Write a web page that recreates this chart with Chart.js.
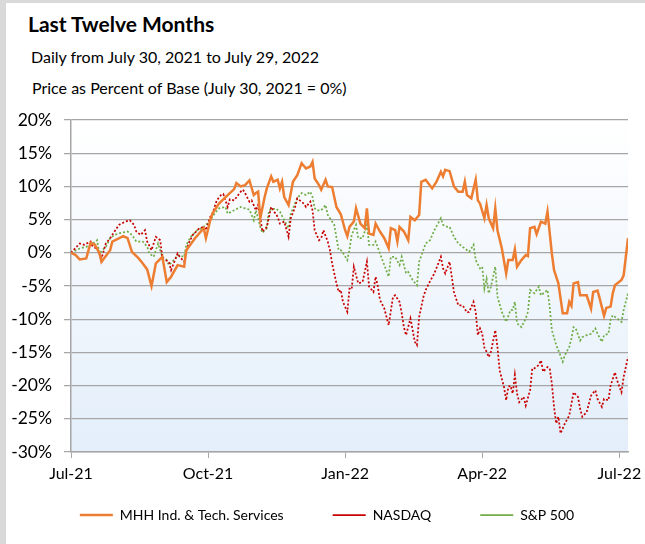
<!DOCTYPE html>
<html>
<head>
<meta charset="utf-8">
<script src="https://cdn.jsdelivr.net/npm/chart.js@4/dist/chart.umd.min.js"></script>
<style>
  body { margin: 0; background: #d9d9d9; width: 645px; height: 544px; overflow: hidden; font-family: Lato, "Liberation Sans", sans-serif; }
  #card { position: absolute; left: 6px; top: 3px; width: 639px; height: 541px; background: #fff; }
  .t { position: absolute; white-space: nowrap; color: #000; line-height: 1; }
  #title { left: 22px; top: 10px; font-size: 21px; font-weight: bold; }
  #sub1 { left: 25px; top: 46px; font-size: 16px; }
  #sub2 { left: 26px; top: 77px; font-size: 16px; }
  canvas { position: absolute; left: 0; top: 0; }
</style>
</head>
<body>
<div id="card">
  <div class="t" id="title">Last Twelve Months</div>
  <div class="t" id="sub1">Daily from July 30, 2021 to July 29, 2022</div>
  <div class="t" id="sub2">Price as Percent of Base (July 30, 2021 = 0%)</div>
  <canvas id="chart" width="639" height="541"></canvas>
</div>
<script>
// trading day index (0 = July 30, 2021) and % change from base
const mhhDay = [
    0, 2, 4, 7, 9, 11, 13, 14, 18, 19,
    24, 26, 28, 31, 33, 35, 37, 39, 42, 44,
    46, 49, 52, 53, 57, 61, 62, 64, 65, 68,
    72, 75, 76, 78, 80, 82, 84, 85, 86, 87,
    89, 90, 92, 93, 95, 96, 97, 98, 100, 102,
    104, 106, 108, 110, 111, 112, 114, 115, 117, 118,
    120, 122, 124, 126, 127, 128, 130, 131, 133, 135,
    136, 137, 139, 140, 142, 144, 146, 147, 149, 150,
    151, 153, 155, 156, 158, 160, 161, 163, 166, 168,
    170, 171, 172, 174, 176, 178, 180, 181, 182, 184,
    186, 187, 188, 190, 191, 192, 194, 195, 196, 198,
    200, 201, 203, 204, 205, 207, 209, 210, 211, 213,
    214, 216, 218, 219, 221, 222, 224, 226, 228, 229,
    230, 231, 233, 234, 237, 239, 240, 242, 243, 245,
    246, 248, 249, 250, 253, 254, 256
];
const mhhPct = [
    0, -0.3, -1.0, -0.85, 1.5, 1.2, 0, -1.35, 0.4, 1.7,
    2.5, 2.2, 0.15, -0.8, -1.6, -2.5, -5.0, -1.6, -0.6, -4.4,
    -3.6, -1.85, -2.1, 0.4, 2.2, 3.7, 2.2, 4.9, 5.9, 7.4,
    8.7, 9.6, 10.5, 10.0, 10.2, 10.9, 8.7, 9.0, 9.2, 5.2,
    8.4, 9.7, 11.5, 10.7, 11.0, 9.7, 10.7, 8.4, 7.2, 10.7,
    11.7, 13.5, 12.7, 13.0, 13.7, 11.2, 10.2, 9.5, 11.0, 10.0,
    9.9, 6.9, 5.8, 3.4, 2.5, 3.9, 4.7, 6.7, 4.4, 3.7,
    6.7, 2.9, 2.7, 4.4, 3.2, 2.2, 0.7, 3.7, 3.4, 1.7,
    3.9, 3.2, 1.9, 5.4, 4.9, 5.7, 10.7, 11.0, 9.7, 10.7,
    12.2, 11.5, 12.5, 12.3, 10.0, 9.2, 9.2, 10.7, 8.7, 8.2,
    11.0, 7.9, 7.4, 5.2, 7.2, 5.2, 3.7, 6.7, 3.4, 0.7,
    -3.1, -1.1, -1.1, 0.5, -2.1, -1.1, -0.35, -0.5, 3.7, 3.9,
    2.8, 4.7, 4.4, 6.2, -0.1, -2.6, -4.6, -9.1, -9.1, -7.4,
    -8.0, -4.6, -4.4, -6.4, -6.4, -8.4, -5.9, -5.7, -6.9, -9.5,
    -8.3, -8.1, -6.1, -4.9, -4.1, -3.4, 2.2
];

const nasdaqDay = [
    0, 4, 6, 9, 10, 12, 14, 16, 18, 20,
    22, 25, 27, 29, 30, 32, 34, 35, 37, 39,
    41, 42, 45, 46, 49, 50, 52, 54, 56, 59,
    61, 62, 64, 65, 67, 69, 70, 72, 73, 75,
    78, 79, 80, 82, 83, 85, 86, 87, 88, 90,
    92, 93, 95, 96, 98, 100, 101, 103, 104, 107,
    108, 110, 111, 112, 114, 115, 116, 118, 119, 120,
    122, 123, 124, 125, 127, 128, 129, 130, 132, 134,
    136, 137, 139, 140, 141, 142, 144, 146, 148, 149,
    151, 152, 153, 154, 156, 157, 158, 159, 160, 162,
    163, 165, 167, 170, 171, 172, 174, 175, 176, 178,
    180, 182, 183, 185, 186, 187, 188, 189, 190, 191,
    192, 193, 195, 196, 197, 199, 200, 201, 202, 203,
    204, 205, 206, 208, 209, 211, 212, 213, 215, 216,
    217, 219, 220, 221, 222, 223, 224, 225, 227, 229,
    231, 233, 234, 235, 237, 239, 241, 242, 244, 245,
    247, 248, 250, 251, 253, 254, 256
];
const nasdaqPct = [
    0, 1.4, 1.2, 1.7, 0.9, 0.65, -0.85, 1.4, 2.2, 3.2,
    4.2, 4.7, 4.9, 4.2, 3.2, 2.7, 3.4, 1.7, 0.4, 2.4,
    1.9, -0.85, -1.35, -2.6, -0.1, -0.6, -1.35, 1.4, 2.7, 3.7,
    3.9, 3.4, 5.4, 5.9, 7.9, 8.7, 8.85, 6.9, 8.05, 7.9,
    9.2, 9.5, 9.0, 7.7, 7.9, 6.4, 7.2, 5.2, 3.2, 3.9,
    6.9, 6.4, 5.4, 4.4, 4.7, 2.4, 5.2, 6.9, 8.2, 7.4,
    6.9, 7.7, 6.4, 3.4, 1.9, 2.2, 3.4, 1.7, 0.4, -1.6,
    -4.6, -5.9, -5.6, -7.4, -8.9, -5.4, -5.5, -2.1, -4.6, -4.4,
    -1.35, -5.1, -5.9, -3.6, -5.0, -7.1, -8.4, -10.9, -6.6, -6.4,
    -7.4, -9.1, -11.2, -12.4, -9.9, -11.6, -13.4, -13.9, -9.65, -6.6,
    -5.6, -4.3, -3.1, -0.6, -2.35, -3.1, -1.35, -3.6, -5.9, -7.9,
    -7.9, -9.0, -8.9, -7.4, -8.9, -12.4, -11.4, -12.2, -14.3, -14.9,
    -15.7, -14.9, -11.65, -14.2, -17.7, -20.2, -22.2, -20.2, -20.0, -21.2,
    -18.4, -21.2, -22.5, -21.7, -23.0, -20.7, -17.4, -17.4, -16.9, -16.2,
    -17.9, -17.2, -17.4, -19.7, -23.2, -25.7, -24.7, -27.2, -25.7, -24.5,
    -21.0, -21.7, -23.5, -24.7, -24.0, -21.5, -20.7, -22.0, -23.2, -22.0,
    -22.2, -20.0, -18.0, -19.2, -21.0, -18.7, -15.7
];

const spDay = [
    0, 4, 7, 10, 12, 13, 16, 18, 20, 23,
    26, 28, 30, 33, 35, 36, 38, 40, 42, 44,
    45, 48, 49, 52, 53, 55, 58, 60, 62, 64,
    66, 68, 71, 72, 75, 78, 80, 82, 84, 85,
    87, 88, 90, 91, 94, 96, 98, 100, 101, 104,
    106, 108, 110, 111, 112, 113, 115, 117, 118, 121,
    123, 124, 125, 127, 128, 129, 131, 132, 134, 136,
    137, 139, 140, 142, 144, 146, 147, 149, 151, 152,
    154, 155, 157, 159, 160, 163, 165, 167, 170, 171,
    173, 174, 176, 178, 180, 183, 185, 186, 188, 189,
    190, 191, 192, 193, 195, 196, 198, 200, 202, 203,
    204, 205, 207, 209, 210, 211, 213, 215, 216, 219,
    220, 221, 223, 224, 226, 227, 229, 230, 231, 232,
    234, 235, 237, 239, 241, 242, 244, 245, 247, 248,
    249, 251, 253, 254, 256
];
const spPct = [
    0, 0.65, 0.9, 1.4, 1.9, -0.1, 0.9, 2.2, 2.7, 3.0,
    3.2, 2.7, 1.7, 1.7, 0.9, -0.1, -0.6, 1.4, -0.6, -1.1,
    -1.85, -0.85, -0.35, -0.6, 1.2, 2.4, 3.4, 3.7, 4.2, 4.9,
    5.9, 6.7, 6.9, 5.9, 6.4, 6.9, 6.7, 6.5, 4.9, 6.4,
    3.9, 3.0, 3.7, 6.4, 6.7, 6.2, 4.9, 3.7, 5.9, 8.2,
    9.0, 8.7, 9.2, 8.4, 6.7, 6.4, 6.4, 7.2, 5.7, 4.2,
    0.4, 0.4, 0.0, -1.1, 0.5, 2.7, 4.2, 2.2, 2.2, 4.2,
    1.2, 1.2, 1.7, -0.1, -1.85, -3.6, -0.6, -0.6, -1.85, -0.6,
    -3.1, -2.9, -4.1, -4.9, -1.35, 1.4, 1.9, 3.4, 5.2, 4.2,
    3.9, 3.9, 2.4, 1.4, 0.9, 0.15, 1.2, -1.1, -2.35, -2.1,
    -5.4, -3.9, -6.1, -5.1, -2.1, -6.6, -8.9, -10.4, -8.6, -8.6,
    -7.4, -10.6, -11.2, -9.9, -8.9, -5.6, -6.1, -5.1, -6.4, -5.6,
    -8.1, -11.65, -13.9, -14.7, -16.4, -15.4, -14.2, -12.9, -11.2, -11.4,
    -13.2, -12.7, -12.4, -12.2, -11.4, -12.2, -13.4, -12.4, -12.2, -10.1,
    -9.4, -9.9, -10.4, -8.6, -6.1
];

// x-axis: a label every 63 trading days
const tickDays = [0, 63, 126, 189, 252];
const tickLabels = ['Jul-21', 'Oct-21', 'Jan-22', 'Apr-22', 'Jul-22'];
const seriesNames = ['MHH Ind. & Tech. Services', 'NASDAQ', 'S&P 500'];

function points(days, vals) {
    return days.map((d, i) => ({ x: d, y: vals[i] }));
}

// light blue fade behind the plot
const plotBg = {
    id: 'plotBg',
    beforeDraw(chart) {
        const { ctx, chartArea: a } = chart;
        const g = ctx.createLinearGradient(0, a.top, 0, a.bottom);
        g.addColorStop(0, '#ffffff');
        g.addColorStop(1, '#e3eefa');
        ctx.save();
        ctx.fillStyle = g;
        ctx.fillRect(a.left, a.top, a.right - a.left, a.bottom - a.top);
        ctx.restore();
    }
};

// legend padding is wide for the item spacing, so pull the row back up
// (and stretch the box down so the legend clip doesn't cut the items)
const legendLift = {
    id: 'legendLift',
    afterLayout(chart) {
        chart.legend.top -= 27;
        chart.legend.bottom = chart.height;
        chart.legend.left += 20;
    }
};

Chart.defaults.font.family = 'Lato, "Liberation Sans", sans-serif';
Chart.defaults.color = '#000';

const ctx = document.getElementById('chart').getContext('2d');
new Chart(ctx, {
    type: 'line',
    data: {
        datasets: [{
            label: seriesNames[0],
            data: points(mhhDay, mhhPct),
            borderColor: '#ed7d31',
            backgroundColor: '#ed7d31',
            borderWidth: 2.5,
            pointRadius: 0
        }, {
            label: seriesNames[1],
            data: points(nasdaqDay, nasdaqPct),
            borderColor: '#c80000',
            backgroundColor: '#c80000',
            borderWidth: 1.75,
            borderDash: [2, 2],
            pointRadius: 0
        }, {
            label: seriesNames[2],
            data: points(spDay, spPct),
            borderColor: '#70ad47',
            backgroundColor: '#70ad47',
            borderWidth: 1.75,
            borderDash: [2, 2],
            pointRadius: 0
        }]
    },
    options: {
        responsive: false,
        animation: false,
        devicePixelRatio: 1,
        layout: { padding: { top: 117, left: 0, right: 17, bottom: 20 } },
        scales: {
            x: {
                type: 'linear',
                min: 0,
                max: 256,
                afterBuildTicks: s => { s.ticks = tickDays.map(v => ({ value: v })); },
                afterFit: s => { s.height = 34; s.paddingLeft = 0; s.paddingRight = 0; },
                ticks: {
                    callback: v => tickLabels[tickDays.indexOf(v)],
                    autoSkip: false,
                    maxRotation: 0,
                    padding: 6,
                    font: { size: 16 }
                },
                grid: { drawOnChartArea: false, tickLength: 6, color: '#a6a6a6' },
                border: { color: '#a6a6a6', width: 1.5 }
            },
            y: {
                min: -30,
                max: 20,
                afterFit: s => { s.width = 65; },
                ticks: {
                    stepSize: 5,
                    callback: v => v + '%',
                    padding: 12,
                    font: { size: 17.5 }
                },
                grid: { color: '#a6a6a6', lineWidth: 1.25, tickLength: 7 },
                border: { color: '#a6a6a6', width: 1.5 }
            }
        },
        plugins: {
            legend: {
                position: 'bottom',
                maxHeight: 38,
                labels: {
                    usePointStyle: true,
                    pointStyle: 'line',
                    pointStyleWidth: 33,
                    padding: 49,
                    font: { size: 14 }
                }
            },
            tooltip: { enabled: false }
        }
    },
    plugins: [plotBg, legendLift]
});
</script>
</body>
</html>
